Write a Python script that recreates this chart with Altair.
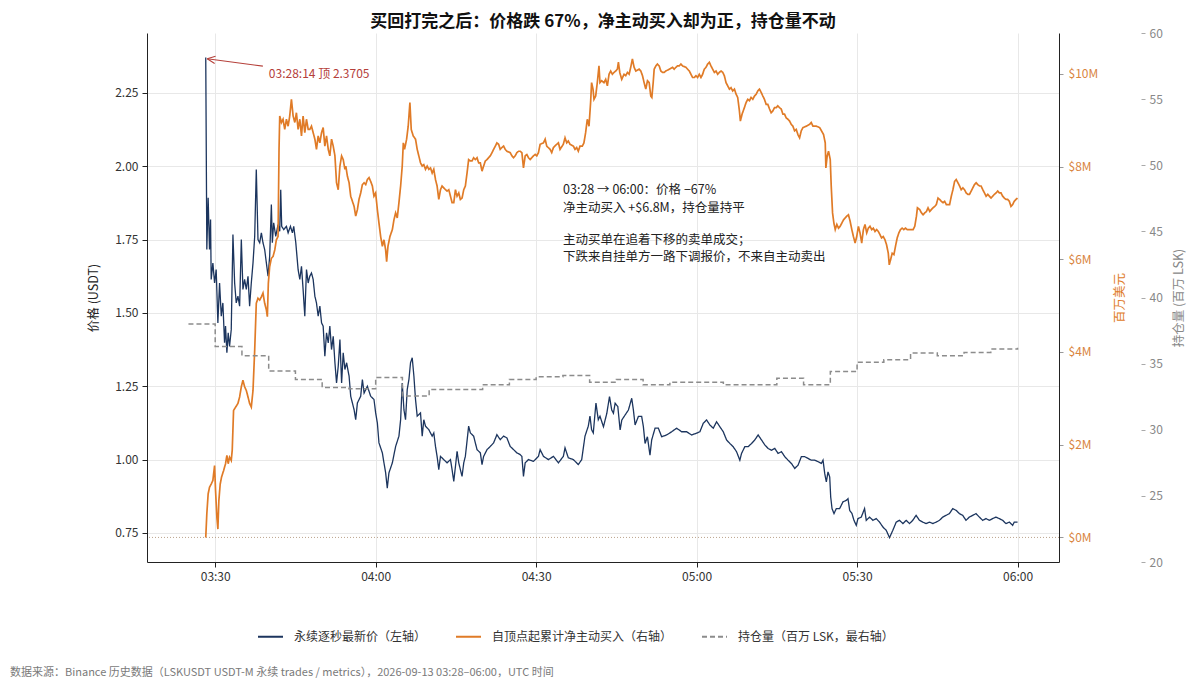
import altair as alt
import pandas as pd

DATE = "2026-09-13"
FONT = "Noto Sans CJK SC"
NAVY = "#1c355e"
ORANGE = "#e07b27"
ORANGE_LABEL = "#d9853f"
GRAY = "#8c8c8c"
RED = "#b5403a"

# ---------------- data ----------------
series_names = [
    "永续逐秒最新价（左轴）",
    "自顶点起累计净主动买入（右轴）",
    "持仓量（百万 LSK，最右轴）",
]

price_time = [
    "03:28:14", "03:28:26", "03:28:41", "03:28:56", "03:29:08", "03:29:15", "03:29:34", "03:29:53",
    "03:30:11", "03:30:30", "03:30:49", "03:31:08", "03:31:26", "03:31:45", "03:31:56", "03:32:11",
    "03:32:26", "03:32:41", "03:33:00", "03:33:19", "03:33:38", "03:33:56", "03:34:15", "03:34:34",
    "03:34:53", "03:35:11", "03:35:30", "03:35:49", "03:36:08", "03:36:26", "03:36:45", "03:37:04",
    "03:37:23", "03:37:41", "03:38:00", "03:38:19", "03:38:38", "03:38:56", "03:39:15", "03:39:34",
    "03:39:53", "03:40:11", "03:40:30", "03:40:41", "03:40:56", "03:41:19", "03:41:45", "03:42:04",
    "03:42:15", "03:42:26", "03:42:49", "03:43:19", "03:43:38", "03:44:04", "03:44:26", "03:44:41",
    "03:45:04", "03:45:30", "03:45:49", "03:46:08", "03:46:26", "03:46:45", "03:47:04", "03:47:23",
    "03:47:41", "03:48:00", "03:48:19", "03:48:38", "03:48:56", "03:49:15", "03:49:34", "03:49:53",
    "03:50:11", "03:50:30", "03:50:49", "03:51:08", "03:51:26", "03:51:45", "03:52:04", "03:52:23",
    "03:52:41", "03:53:00", "03:53:19", "03:53:38", "03:53:56", "03:54:15", "03:54:34", "03:55:02",
    "03:55:20", "03:55:58", "03:56:16", "03:56:35", "03:57:12", "03:57:31", "03:57:50", "03:58:27",
    "03:59:04", "03:59:41", "04:00:00", "04:00:19", "04:00:37", "04:01:15", "04:01:33", "04:01:52",
    "04:02:10", "04:02:29", "04:03:07", "04:03:44", "04:04:21", "04:04:40", "04:04:58", "04:05:17",
    "04:05:35", "04:05:54", "04:06:13", "04:06:31", "04:06:50", "04:07:09", "04:07:27", "04:07:46",
    "04:08:23", "04:08:42", "04:09:00", "04:09:19", "04:09:56", "04:10:34", "04:10:52", "04:11:11",
    "04:11:29", "04:11:48", "04:12:07", "04:12:44", "04:13:21", "04:13:59", "04:14:17", "04:14:36",
    "04:14:55", "04:15:13", "04:15:32", "04:15:50", "04:16:09", "04:16:28", "04:16:46", "04:17:23",
    "04:17:42", "04:18:19", "04:18:57", "04:19:34", "04:19:53", "04:20:11", "04:20:49", "04:21:26",
    "04:22:03", "04:22:40", "04:23:17", "04:23:55", "04:24:32", "04:25:09", "04:25:47", "04:26:24",
    "04:27:01", "04:27:20", "04:27:38", "04:27:57", "04:28:34", "04:29:30", "04:30:26", "04:30:45",
    "04:31:22", "04:32:18", "04:33:14", "04:34:10", "04:35:05", "04:35:24", "04:36:01", "04:36:58",
    "04:37:53", "04:38:31", "04:39:08", "04:39:45", "04:40:04", "04:40:22", "04:40:41", "04:41:11",
    "04:41:37", "04:41:56", "04:42:35", "04:43:13", "04:43:43", "04:44:08", "04:44:27", "04:44:46",
    "04:45:16", "04:45:42", "04:46:01", "04:46:38", "04:47:15", "04:47:52", "04:48:11", "04:48:30",
    "04:49:07", "04:49:44", "04:50:03", "04:50:22", "04:50:48", "04:51:17", "04:51:36", "04:52:14",
    "04:52:51", "04:53:28", "04:54:24", "04:55:20", "04:56:16", "04:57:12", "04:58:08", "04:59:04",
    "05:00:00", "05:00:37", "05:01:15", "05:01:52", "05:02:29", "05:03:07", "05:03:44", "05:04:21",
    "05:04:59", "05:05:36", "05:06:13", "05:06:50", "05:07:28", "05:08:05", "05:08:24", "05:09:01",
    "05:09:38", "05:10:16", "05:10:53", "05:11:30", "05:12:08", "05:12:45", "05:13:22", "05:13:59",
    "05:14:37", "05:15:14", "05:15:52", "05:16:29", "05:17:06", "05:17:43", "05:18:21", "05:18:58",
    "05:19:35", "05:20:13", "05:20:50", "05:21:27", "05:22:05", "05:22:42", "05:23:19", "05:23:38",
    "05:23:57", "05:24:15", "05:24:34", "05:24:53", "05:25:04", "05:25:19", "05:25:41", "05:26:07",
    "05:26:44", "05:27:22", "05:27:59", "05:28:18", "05:28:37", "05:29:03", "05:29:25", "05:29:51",
    "05:30:10", "05:30:47", "05:31:24", "05:31:43", "05:32:20", "05:32:58", "05:33:35", "05:34:12",
    "05:34:50", "05:35:27", "05:36:04", "05:36:41", "05:37:19", "05:37:56", "05:38:34", "05:39:11",
    "05:39:48", "05:40:25", "05:41:02", "05:41:40", "05:42:17", "05:42:55", "05:43:32", "05:44:09",
    "05:44:47", "05:45:24", "05:46:01", "05:46:38", "05:47:16", "05:47:53", "05:48:31", "05:49:08",
    "05:49:45", "05:50:22", "05:50:59", "05:51:37", "05:52:14", "05:52:52", "05:53:29", "05:54:06",
    "05:54:44", "05:55:21", "05:55:58", "05:56:35", "05:57:13", "05:57:50", "05:58:28", "05:59:05",
    "05:59:23", "06:00:00",
]
price_value = [
    2.3705, 1.716, 1.892, 1.716, 1.818, 1.614, 1.670, 1.602,
    1.648, 1.466, 1.602, 1.489, 1.534, 1.398, 1.455, 1.364,
    1.432, 1.386, 1.443, 1.767, 1.602, 1.534, 1.557, 1.523,
    1.750, 1.580, 1.614, 1.580, 1.625, 1.523, 1.602, 1.670,
    1.761, 1.989, 1.750, 1.739, 1.773, 1.739, 1.716, 1.670,
    1.625, 1.693, 1.869, 1.739, 1.807, 1.761, 1.801, 1.778,
    1.920, 1.795, 1.784, 1.795, 1.773, 1.795, 1.773, 1.795,
    1.739, 1.648, 1.614, 1.659, 1.580, 1.489, 1.648, 1.602,
    1.625, 1.636, 1.614, 1.557, 1.534, 1.489, 1.523, 1.466,
    1.455, 1.352, 1.432, 1.398, 1.455, 1.375, 1.420, 1.330,
    1.261, 1.318, 1.409, 1.261, 1.364, 1.307, 1.330, 1.284,
    1.216, 1.170, 1.136, 1.193, 1.216, 1.273, 1.227, 1.250,
    1.216, 1.205, 1.159, 1.125, 1.057, 1.023, 0.989, 0.955,
    0.903, 0.955, 0.989, 1.045, 1.080, 1.136, 1.261, 1.170,
    1.136, 1.239, 1.273, 1.330, 1.347, 1.284, 1.205, 1.148,
    1.159, 1.080, 1.136, 1.114, 1.102, 1.080, 1.091, 1.045,
    1.011, 0.966, 1.011, 1.000, 0.989, 1.000, 0.966, 0.926,
    0.977, 1.028, 0.989, 0.966, 0.943, 0.989, 1.011, 1.114,
    1.091, 1.080, 1.034, 1.023, 0.983, 1.011, 1.034, 1.045,
    1.057, 1.085, 1.068, 1.080, 1.074, 1.045, 1.034, 1.023,
    1.017, 1.011, 0.943, 0.989, 1.000, 0.994, 1.011, 1.034,
    1.011, 1.000, 1.011, 0.989, 1.011, 1.040, 1.006, 1.000,
    0.983, 1.000, 1.080, 1.114, 1.148, 1.102, 1.091, 1.193,
    1.136, 1.148, 1.112, 1.158, 1.215, 1.169, 1.158, 1.192,
    1.181, 1.101, 1.135, 1.152, 1.169, 1.209, 1.169, 1.118,
    1.147, 1.147, 1.112, 1.055, 1.078, 1.015, 1.067, 1.107,
    1.107, 1.078, 1.084, 1.095, 1.107, 1.095, 1.095, 1.084,
    1.090, 1.095, 1.124, 1.135, 1.118, 1.107, 1.129, 1.112,
    1.095, 1.067, 1.055, 1.044, 1.027, 0.998, 1.021, 1.044,
    1.044, 1.055, 1.067, 1.084, 1.067, 1.050, 1.038, 1.032,
    1.038, 1.021, 1.027, 1.010, 0.998, 0.987, 0.970, 0.981,
    1.010, 1.010, 1.004, 0.998, 0.998, 0.993, 0.987, 0.998,
    0.953, 0.924, 0.958, 0.941, 0.873, 0.833, 0.816, 0.833,
    0.833, 0.856, 0.861, 0.867, 0.827, 0.816, 0.793, 0.776,
    0.799, 0.804, 0.833, 0.793, 0.804, 0.793, 0.799, 0.787,
    0.770, 0.759, 0.734, 0.759, 0.787, 0.793, 0.782, 0.793,
    0.782, 0.793, 0.810, 0.793, 0.787, 0.782, 0.787, 0.782,
    0.787, 0.793, 0.804, 0.810, 0.816, 0.833, 0.827, 0.816,
    0.810, 0.793, 0.804, 0.810, 0.816, 0.804, 0.793, 0.799,
    0.793, 0.799, 0.804, 0.799, 0.793, 0.782, 0.787, 0.776,
    0.787, 0.787,
]

buy_time = [
    "03:28:14", "03:28:26", "03:28:41", "03:28:56", "03:29:15", "03:29:34", "03:29:53", "03:30:04",
    "03:30:19", "03:30:30", "03:30:41", "03:30:56", "03:31:11", "03:31:34", "03:31:56", "03:32:11",
    "03:32:26", "03:32:41", "03:33:00", "03:33:11", "03:33:26", "03:33:49", "03:34:15", "03:34:34",
    "03:34:53", "03:35:11", "03:35:30", "03:35:49", "03:36:08", "03:36:26", "03:36:45", "03:37:04",
    "03:37:23", "03:37:41", "03:38:00", "03:38:19", "03:38:38", "03:38:56", "03:39:15", "03:39:34",
    "03:39:45", "03:39:56", "03:40:11", "03:40:30", "03:40:49", "03:41:08", "03:41:26", "03:41:45",
    "03:41:56", "03:42:04", "03:42:23", "03:42:41", "03:43:00", "03:43:19", "03:43:38", "03:43:56",
    "03:44:15", "03:44:34", "03:44:53", "03:45:11", "03:45:30", "03:45:49", "03:46:08", "03:46:26",
    "03:46:45", "03:47:04", "03:47:23", "03:47:41", "03:48:00", "03:48:19", "03:48:38", "03:48:56",
    "03:49:15", "03:49:34", "03:49:53", "03:50:11", "03:50:30", "03:50:49", "03:51:08", "03:51:26",
    "03:51:45", "03:52:04", "03:52:23", "03:52:41", "03:53:00", "03:53:19", "03:53:38", "03:53:56",
    "03:54:15", "03:54:25", "03:54:43", "03:55:02", "03:55:20", "03:55:39", "03:55:58", "03:56:16",
    "03:56:35", "03:56:53", "03:57:12", "03:57:31", "03:57:50", "03:58:08", "03:58:27", "03:58:46",
    "03:59:04", "03:59:23", "03:59:41", "04:00:00", "04:00:19", "04:00:37", "04:00:56", "04:01:15",
    "04:01:33", "04:01:52", "04:02:03", "04:02:18", "04:02:40", "04:03:07", "04:03:25", "04:03:44",
    "04:04:02", "04:04:21", "04:04:40", "04:04:58", "04:05:10", "04:05:24", "04:05:47", "04:06:05",
    "04:06:24", "04:06:39", "04:07:01", "04:07:27", "04:07:46", "04:08:04", "04:08:23", "04:08:42",
    "04:09:00", "04:09:19", "04:09:38", "04:09:56", "04:10:15", "04:10:34", "04:10:52", "04:11:11",
    "04:11:29", "04:11:48", "04:12:07", "04:12:25", "04:12:44", "04:13:03", "04:13:21", "04:13:40",
    "04:13:59", "04:14:17", "04:14:36", "04:14:55", "04:15:13", "04:15:32", "04:15:50", "04:16:09",
    "04:16:28", "04:16:46", "04:17:05", "04:17:23", "04:17:42", "04:18:01", "04:18:19", "04:18:38",
    "04:18:57", "04:19:15", "04:19:34", "04:19:53", "04:20:11", "04:20:30", "04:20:49", "04:21:07",
    "04:21:26", "04:21:45", "04:22:03", "04:22:22", "04:22:40", "04:22:59", "04:23:17", "04:23:36",
    "04:23:55", "04:24:13", "04:24:32", "04:25:09", "04:25:28", "04:25:47", "04:26:05", "04:26:24",
    "04:26:43", "04:27:01", "04:27:20", "04:27:38", "04:27:57", "04:28:16", "04:28:34", "04:28:53",
    "04:29:11", "04:29:30", "04:29:49", "04:30:07", "04:30:26", "04:30:45", "04:31:22", "04:31:41",
    "04:31:59", "04:32:37", "04:32:55", "04:33:14", "04:33:51", "04:34:10", "04:34:28", "04:35:05",
    "04:35:24", "04:35:43", "04:36:01", "04:36:20", "04:36:58", "04:37:16", "04:37:35", "04:37:53",
    "04:38:12", "04:38:38", "04:38:56", "04:39:15", "04:39:34", "04:39:53", "04:40:11", "04:40:22",
    "04:40:38", "04:40:49", "04:41:08", "04:41:26", "04:41:45", "04:41:56", "04:42:15", "04:42:41",
    "04:43:00", "04:43:19", "04:43:38", "04:43:56", "04:44:15", "04:44:34", "04:44:53", "04:45:11",
    "04:45:23", "04:45:38", "04:46:00", "04:46:26", "04:46:45", "04:47:04", "04:47:23", "04:47:41",
    "04:48:00", "04:48:19", "04:48:38", "04:49:15", "04:49:34", "04:49:53", "04:50:11", "04:50:30",
    "04:50:49", "04:51:08", "04:51:26", "04:51:38", "04:51:53", "04:52:04", "04:52:23", "04:52:41",
    "04:53:00", "04:53:19", "04:53:38", "04:53:56", "04:54:15", "04:54:53", "04:55:30", "04:55:49",
    "04:56:08", "04:56:26", "04:56:45", "04:57:04", "04:57:23", "04:58:00", "04:58:38", "04:59:15",
    "04:59:34", "04:59:53", "05:00:11", "05:00:30", "05:00:49", "05:01:08", "05:01:26", "05:01:45",
    "05:02:04", "05:02:23", "05:02:41", "05:03:00", "05:03:19", "05:03:38", "05:03:56", "05:04:15",
    "05:04:34", "05:04:53", "05:05:11", "05:05:30", "05:05:49", "05:06:08", "05:06:26", "05:06:45",
    "05:07:04", "05:07:23", "05:07:41", "05:08:00", "05:08:11", "05:08:30", "05:08:56", "05:09:15",
    "05:09:34", "05:09:53", "05:10:11", "05:10:30", "05:10:49", "05:11:08", "05:11:26", "05:11:45",
    "05:12:04", "05:12:23", "05:12:41", "05:13:00", "05:13:19", "05:13:38", "05:13:56", "05:14:15",
    "05:14:34", "05:14:53", "05:15:11", "05:15:30", "05:15:49", "05:16:08", "05:16:26", "05:16:45",
    "05:17:04", "05:17:23", "05:17:41", "05:18:00", "05:18:19", "05:18:38", "05:18:56", "05:19:15",
    "05:19:34", "05:19:53", "05:20:30", "05:21:08", "05:21:26", "05:21:45", "05:22:23", "05:23:00",
    "05:23:44", "05:24:03", "05:24:10", "05:24:25", "05:24:40", "05:24:59", "05:25:10", "05:25:25",
    "05:25:40", "05:25:55", "05:26:13", "05:26:32", "05:26:50", "05:27:09", "05:27:28", "05:27:46",
    "05:28:05", "05:28:23", "05:28:42", "05:29:01", "05:29:19", "05:29:38", "05:29:56", "05:30:15",
    "05:30:33", "05:30:52", "05:31:11", "05:31:29", "05:31:48", "05:32:06", "05:32:25", "05:32:44",
    "05:33:02", "05:33:21", "05:33:40", "05:33:58", "05:34:17", "05:34:35", "05:34:54", "05:35:13",
    "05:35:31", "05:35:50", "05:36:01", "05:36:16", "05:36:34", "05:36:53", "05:37:11", "05:37:30",
    "05:37:49", "05:38:07", "05:38:26", "05:38:44", "05:39:03", "05:39:22", "05:39:52", "05:40:29",
    "05:40:47", "05:41:06", "05:41:17", "05:41:43", "05:42:02", "05:42:20", "05:42:39", "05:42:58",
    "05:43:16", "05:43:35", "05:43:53", "05:44:12", "05:44:31", "05:44:49", "05:45:08", "05:45:26",
    "05:45:45", "05:46:04", "05:46:22", "05:46:41", "05:46:59", "05:47:18", "05:47:37", "05:47:55",
    "05:48:14", "05:48:32", "05:48:51", "05:49:10", "05:49:28", "05:49:47", "05:50:05", "05:50:24",
    "05:50:43", "05:51:01", "05:51:20", "05:51:38", "05:51:57", "05:52:16", "05:52:34", "05:52:53",
    "05:53:11", "05:53:30", "05:53:49", "05:54:07", "05:54:26", "05:54:44", "05:55:03", "05:55:22",
    "05:55:40", "05:55:59", "05:56:17", "05:56:36", "05:56:55", "05:57:13", "05:57:32", "05:57:50",
    "05:58:09", "05:58:28", "05:58:46", "05:59:05", "05:59:23", "05:59:42", "06:00:00",
]
buy_value = [
    0.00, 0.51, 0.94, 1.08, 1.15, 1.23, 1.55, 1.01,
    0.43, 0.18, 0.79, 1.15, 1.30, 1.44, 1.59, 1.77,
    1.59, 1.73, 1.66, 1.88, 2.74, 2.81, 2.89, 3.03,
    3.25, 3.39, 3.25, 3.17, 3.03, 2.89, 2.81, 3.17,
    4.04, 5.05, 5.16, 5.12, 5.19, 5.27, 5.05, 4.91,
    4.76, 5.48, 5.84, 6.02, 6.06, 6.20, 6.42, 6.49,
    8.37, 9.09, 8.95, 9.02, 8.80, 9.02, 8.87, 9.09,
    9.45, 9.09, 8.95, 9.16, 8.80, 9.02, 8.66, 9.09,
    8.73, 9.02, 8.80, 8.80, 8.87, 8.73, 8.59, 8.37,
    8.66, 8.51, 8.73, 8.84, 8.44, 8.66, 8.37, 8.23,
    8.59, 8.44, 8.23, 7.65, 7.50, 8.01, 8.23, 8.15,
    7.94, 8.01, 7.79, 7.65, 7.36, 7.25, 7.14, 6.93,
    7.07, 7.29, 7.43, 7.61, 7.65, 7.61, 7.72, 7.76,
    7.68, 7.58, 7.36, 7.43, 7.07, 6.78, 6.49, 6.28,
    6.42, 6.20, 5.95, 6.28, 6.49, 6.64, 6.85, 7.00,
    6.89, 7.22, 7.58, 8.01, 8.51, 8.37, 8.59, 8.87,
    9.38, 8.80, 8.66, 8.59, 8.37, 8.23, 8.08, 8.01,
    8.04, 7.94, 8.01, 7.94, 7.97, 7.86, 7.94, 7.72,
    7.58, 7.29, 7.50, 7.58, 7.54, 7.50, 7.47, 7.50,
    7.36, 7.22, 7.22, 7.50, 7.36, 7.43, 7.29, 7.32,
    7.50, 7.58, 7.86, 8.15, 8.12, 8.12, 8.19, 8.15,
    8.19, 8.08, 8.08, 7.90, 8.01, 8.12, 8.15, 8.19,
    8.23, 8.30, 8.37, 8.44, 8.51, 8.48, 8.37, 8.41,
    8.44, 8.37, 8.33, 8.30, 8.23, 8.19, 8.23, 8.30,
    8.33, 8.33, 8.30, 7.97, 8.23, 8.26, 8.19, 8.15,
    8.19, 8.23, 8.26, 8.23, 8.30, 8.48, 8.51, 8.59,
    8.44, 8.37, 8.30, 8.41, 8.48, 8.51, 8.37, 8.48,
    8.62, 8.51, 8.55, 8.48, 8.44, 8.37, 8.41, 8.33,
    8.44, 8.44, 8.51, 8.73, 9.02, 8.87, 9.38, 9.81,
    9.67, 9.45, 9.52, 9.81, 10.17, 9.81, 9.85, 9.81,
    9.88, 9.74, 9.99, 10.06, 9.99, 10.03, 10.06, 10.10,
    10.25, 10.03, 9.88, 9.99, 9.96, 10.03, 9.99, 10.14,
    10.32, 10.14, 10.06, 10.10, 10.06, 9.96, 9.81, 9.67,
    9.85, 9.81, 9.52, 9.49, 9.81, 10.10, 10.17, 10.21,
    10.17, 10.06, 10.03, 10.03, 10.06, 10.10, 10.14, 10.10,
    10.14, 10.17, 10.17, 10.21, 10.17, 10.14, 10.06, 9.92,
    9.92, 9.96, 9.92, 9.99, 9.92, 9.99, 10.10, 10.14,
    10.21, 10.25, 10.17, 10.10, 10.03, 10.06, 9.99, 10.03,
    10.06, 10.03, 9.96, 9.81, 9.74, 9.67, 9.70, 9.63,
    9.67, 9.56, 9.49, 9.20, 8.98, 9.13, 9.27, 9.38,
    9.45, 9.42, 9.49, 9.45, 9.52, 9.56, 9.63, 9.67,
    9.60, 9.52, 9.45, 9.34, 9.34, 9.24, 9.16, 9.20,
    9.27, 9.27, 9.31, 9.27, 9.24, 9.13, 9.13, 9.05,
    9.02, 8.98, 8.91, 8.87, 8.77, 8.80, 8.69, 8.62,
    8.77, 8.84, 8.87, 8.91, 8.95, 8.87, 8.87, 8.84,
    8.69, 8.51, 7.97, 8.23, 8.33, 8.15, 7.58, 7.00,
    6.78, 6.64, 6.75, 6.67, 6.71, 6.78, 6.85, 6.89,
    6.93, 6.96, 6.82, 6.64, 6.49, 6.35, 6.49, 6.71,
    6.57, 6.35, 6.64, 6.75, 6.57, 6.67, 6.71, 6.64,
    6.67, 6.60, 6.64, 6.60, 6.53, 6.46, 6.49, 6.42,
    6.31, 6.13, 5.88, 5.99, 6.13, 6.10, 6.28, 6.46,
    6.57, 6.64, 6.67, 6.64, 6.67, 6.64, 6.64, 6.64,
    6.71, 6.93, 7.11, 7.07, 7.00, 6.96, 7.00, 7.03,
    7.11, 7.03, 7.07, 7.11, 7.14, 7.18, 7.32, 7.29,
    7.25, 7.22, 7.25, 7.18, 7.18, 7.18, 7.36, 7.50,
    7.68, 7.72, 7.65, 7.58, 7.50, 7.54, 7.50, 7.43,
    7.40, 7.40, 7.47, 7.54, 7.61, 7.65, 7.61, 7.58,
    7.58, 7.50, 7.43, 7.36, 7.40, 7.36, 7.32, 7.36,
    7.40, 7.43, 7.47, 7.43, 7.43, 7.36, 7.32, 7.29,
    7.29, 7.25, 7.14, 7.18, 7.25, 7.29, 7.32,
]

oi_time = [
    "03:25", "03:30", "03:35", "03:40", "03:45", "03:50", "03:55", "04:00",
    "04:05", "04:10", "04:15", "04:20", "04:25", "04:30", "04:35", "04:40",
    "04:45", "04:50", "04:55", "05:00", "05:05", "05:10", "05:15", "05:20",
    "05:25", "05:30", "05:35", "05:40", "05:45", "05:50", "05:55", "06:00",
]
oi_value = [
    38.0, 36.3, 35.6, 34.45, 33.8, 33.2, 33.1, 33.95,
    32.55, 33.05, 33.05, 33.4, 33.8, 34.0, 34.1, 33.6,
    33.8, 33.4, 33.6, 33.6, 33.4, 33.4, 33.9, 33.4,
    34.4, 35.1, 35.3, 35.8, 35.6, 35.85, 36.1, 36.2,
]

title_text = "买回打完之后：价格跌 67%，净主动买入却为正，持仓量不动"
peak_label = "03:28:14 顶 2.3705"
note_block_1 = ["03:28 → 06:00：价格 −67%", "净主动买入 +$6.8M，持仓量持平"]
note_block_2 = ["主动买单在追着下移的卖单成交；", "下跌来自挂单方一路下调报价，不来自主动卖出"]
source_text = "数据来源：Binance 历史数据（LSKUSDT USDT-M 永续 trades / metrics），2026-09-13 03:28–06:00，UTC 时间"

price_ticks = [0.75, 1.00, 1.25, 1.50, 1.75, 2.00, 2.25]
buy_ticks = [0, 2, 4, 6, 8, 10]
oi_ticks = [20, 25, 30, 35, 40, 45, 50, 55, 60]


def ts(hms):
    if len(hms) == 5:
        hms = hms + ":00"
    return f"{DATE}T{hms}"


def dt(h, m, s=0):
    return alt.DateTime(year=2026, month=9, date=13, hours=h, minutes=m, seconds=s)


price_df = pd.DataFrame({"t": [ts(s) for s in price_time], "v": price_value, "s": series_names[0]})
buy_df = pd.DataFrame({"t": [ts(s) for s in buy_time], "v": buy_value, "s": series_names[1]})
oi_df = pd.DataFrame({"t": [ts(s) for s in oi_time], "v": oi_value, "s": series_names[2]})

# ---------------- scales / axes ----------------
x_scale = alt.Scale(domain=[dt(3, 17, 15), dt(6, 7, 45)])
x_ticks = [dt(3, 30), dt(4, 0), dt(4, 30), dt(5, 0), dt(5, 30), dt(6, 0)]
x_axis = alt.Axis(
    values=x_ticks, format="%H:%M", title=None, grid=True, gridColor="#e8e8e8",
    domainColor="#222222", tickColor="#222222", tickSize=5, labelPadding=4,
    labelFontSize=12, labelColor="#333333",
)
X = alt.X("t:T", scale=x_scale, axis=x_axis, title=None)

price_scale = alt.Scale(domain=[0.651, 2.454], nice=False, zero=False)
buy_scale = alt.Scale(domain=[-0.53, 10.88], nice=False, zero=False)
oi_scale = alt.Scale(domain=[20, 60], nice=False, zero=False)

price_axis = alt.Axis(
    orient="left", values=price_ticks, format=".2f", grid=True,
    gridColor="#e8e8e8", domainColor="#222222", tickColor="#222222", tickSize=5,
    labelPadding=4, labelFontSize=12, labelColor="#333333", titleFontSize=12.5,
    titleFontWeight="normal", titleColor="#222222", titlePadding=14,
)
buy_axis = alt.Axis(
    orient="right", values=buy_ticks, labelExpr="'$' + datum.value + 'M'",
    grid=False, domainColor="#222222", tickColor="#999999", tickSize=4, labelPadding=5,
    labelFontSize=12, labelColor=ORANGE_LABEL, titleColor=ORANGE, titleFontSize=12.5,
    titleFontWeight="normal", titleAngle=-90, titleBaseline="top", titlePadding=16,
)
oi_axis = alt.Axis(
    orient="right", offset=82, values=oi_ticks, grid=False,
    domain=False, tickColor="#aaaaaa", tickSize=4, labelPadding=4, labelFontSize=12,
    labelColor="#888888", titleColor="#888888", titleFontSize=12.5, titleFontWeight="normal",
    titleAngle=-90, titleBaseline="top", titlePadding=10,
)
Y_PRICE = alt.Y("v:Q", scale=price_scale, axis=price_axis, title="价格 (USDT)")
Y_BUY = alt.Y("v:Q", scale=buy_scale, axis=buy_axis, title="百万美元")
Y_OI = alt.Y("v:Q", scale=oi_scale, axis=oi_axis, title="持仓量 (百万 LSK)")

legend = alt.Legend(
    title=None, orient="none", legendX=110, legendY=590, direction="horizontal",
    symbolType="stroke", symbolSize=625, symbolStrokeWidth=2, labelFontSize=12,
    labelColor="#333333", labelOffset=10, columnPadding=25, labelLimit=400,
)
color = alt.Color("s:N", scale=alt.Scale(domain=series_names, range=[NAVY, ORANGE, GRAY]), legend=legend, title=None)
dash = alt.StrokeDash("s:N", scale=alt.Scale(domain=series_names, range=[[1, 0], [1, 0], [5, 3]]), legend=legend, title=None)

# ---------------- price group (left axis) ----------------
price_line = alt.Chart(price_df).mark_line(strokeWidth=1.3).encode(
    x=X, y=Y_PRICE, color=color, strokeDash=dash,
)

peak_df = pd.DataFrame({"t": [ts("03:40:02")], "v": [2.315], "label": [peak_label]})
peak_text = alt.Chart(peak_df).mark_text(
    align="left", baseline="middle", fontSize=12, color=RED
).encode(x=X, y=Y_PRICE, text="label:N")

arrow_df = pd.DataFrame({"t": [ts("03:38:55")], "t2": [ts("03:28:30")], "v": [2.341], "v2": [2.366]})
arrow_line = alt.Chart(arrow_df).mark_rule(color=RED, strokeWidth=1.1).encode(
    x=X, x2="t2:T", y=Y_PRICE, y2="v2:Q"
)
head_df = pd.DataFrame({"t": [ts("03:28:30")], "v": [2.366]})
arrow_head = alt.Chart(head_df).mark_point(
    shape="M0,0L2,-0.9M0,0L2,0.9", filled=False, size=64, angle=7.5,
    strokeWidth=1.1, color=RED, opacity=1,
).encode(x=X, y=Y_PRICE)

note_df = pd.DataFrame({
    "t": [ts("04:35:02"), ts("04:35:02")],
    "v": [1.938, 1.770],
    "label": ["\n".join(note_block_1), "\n".join(note_block_2)],
})
note_text = alt.Chart(note_df).mark_text(
    align="left", baseline="top", fontSize=12.5, lineHeight=17.5, lineBreak="\n", color="#222222"
).encode(x=X, y=Y_PRICE, text="label:N")

src_df = pd.DataFrame({"label": [source_text]})
src_text = alt.Chart(src_df).mark_text(
    align="left", baseline="middle", fontSize=11, color="#7a7a7a"
).encode(x=alt.value(-137), y=alt.value(640), text="label:N")

price_group = alt.layer(price_line, peak_text, arrow_line, arrow_head, note_text, src_text)

# ---------------- net buy group (right axis) ----------------
buy_line = alt.Chart(buy_df).mark_line(strokeWidth=1.7).encode(
    x=X, y=Y_BUY, color=color, strokeDash=dash,
)
zero_df = pd.DataFrame({"v": [0]})
zero_rule = alt.Chart(zero_df).mark_rule(strokeDash=[1, 2], color="#b39a80", strokeWidth=0.9).encode(
    y=Y_BUY
)
buy_group = alt.layer(zero_rule, buy_line)

# ---------------- open interest (far right axis) ----------------
oi_line = alt.Chart(oi_df).mark_line(interpolate="step-after", strokeWidth=1.5).encode(
    x=X, y=Y_OI, color=color, strokeDash=dash,
)

chart = (
    alt.layer(price_group, buy_group, oi_line)
    .resolve_scale(y="independent")
    .properties(
        width=912,
        height=529,
        autosize=alt.AutoSizeParams(type="none"),
        padding={"left": 139, "top": 25, "right": 132, "bottom": 122},
        title=alt.Title(title_text, fontSize=17, fontWeight="bold", anchor="middle", offset=-4, color="#111111"),
    )
    .configure_view(stroke=None)
    .configure_axis(labelFont=FONT, titleFont=FONT)
    .configure_legend(labelFont=FONT)
    .configure_text(font=FONT)
    .configure_title(font=FONT)
)

chart.save("out.html", embed_options={"renderer": "svg", "actions": False})
